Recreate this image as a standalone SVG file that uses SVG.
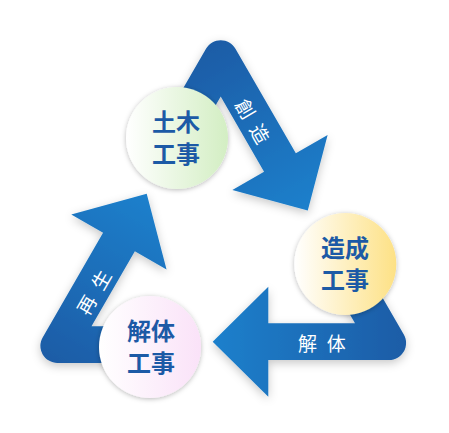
<svg xmlns="http://www.w3.org/2000/svg" width="449" height="433" viewBox="0 0 449 433">
  <defs>
    <linearGradient id="arrowGrad" x1="0" y1="0" x2="1" y2="0">
      <stop offset="0" stop-color="#1b80cc"/>
      <stop offset="1" stop-color="#1a5ca6"/>
    </linearGradient>
    <linearGradient id="gGreen" x1="0" y1="0" x2="1" y2="0">
      <stop offset="0" stop-color="#ffffff"/>
      <stop offset="1" stop-color="#d3eec3"/>
    </linearGradient>
    <linearGradient id="gYellow" x1="0" y1="0" x2="1" y2="0">
      <stop offset="0" stop-color="#ffffff"/>
      <stop offset="1" stop-color="#fde185"/>
    </linearGradient>
    <linearGradient id="gPink" x1="0" y1="0" x2="1" y2="0">
      <stop offset="0" stop-color="#ffffff"/>
      <stop offset="1" stop-color="#fae2f8"/>
    </linearGradient>
    <filter id="arrowShadow" x="-20%" y="-20%" width="140%" height="140%">
      <feDropShadow dx="0" dy="3" stdDeviation="5" flood-color="#000000" flood-opacity="0.22"/>
    </filter>
    <filter id="circleShadow" x="-20%" y="-20%" width="140%" height="140%">
      <feDropShadow dx="0" dy="1" stdDeviation="2.5" flood-color="#000000" flood-opacity="0.28"/>
    </filter>
    <path id="arrowShape" d="M212.7,341.7 L268.3,286.7 L268.3,323.3 L355,323.3 L335,288.7 L366.8,270.4 L403.8,334.5 A17,17 0 0 1 389.1,360 L268.3,360 L268.3,396.7 Z"/>
  </defs>
  <style>
    .arrow { fill: url(#arrowGrad); }
    .alabel { font-family: "Noto Sans CJK JP", "Noto Sans", sans-serif; font-size: 19px; fill: #ffffff; text-anchor: middle; dominant-baseline: central; }
    .nlabel { font-family: "Noto Sans CJK JP", "Noto Sans", sans-serif; font-size: 24px; font-weight: bold; fill: #1c5aa6; text-anchor: middle; }
    .circle { filter: url(#circleShadow); }
  </style>
  <rect width="449" height="433" fill="#ffffff"/>

  <g id="connectors">
    <g id="arrow-souzou" filter="url(#arrowShadow)">
      <use href="#arrowShape" class="arrow" transform="rotate(240 222.4 248.7)"/>
    </g>
    <g id="arrow-kaitai" filter="url(#arrowShadow)">
      <use href="#arrowShape" class="arrow"/>
    </g>
    <g id="arrow-saisei" filter="url(#arrowShadow)">
      <use href="#arrowShape" class="arrow" transform="rotate(120 222.4 248.7)"/>
    </g>
    <text class="alabel" x="-14.5 0 14.5" y="0" transform="translate(253.6,120.8) rotate(60)">創 造</text>
    <text class="alabel" x="307.5 322 336.3" y="342">解 体</text>
    <text class="alabel" x="-14.5 0 14.5" y="0" transform="translate(92.9,291.7) rotate(-60)">再 生</text>
  </g>

  <g id="node-doboku">
    <circle class="circle" cx="177" cy="138" r="51" fill="url(#gGreen)"/>
    <text class="nlabel"><tspan x="176" y="131">土木</tspan><tspan x="176" y="163">工事</tspan></text>
  </g>
  <g id="node-zousei">
    <circle class="circle" cx="345.3" cy="264" r="51" fill="url(#gYellow)"/>
    <text class="nlabel"><tspan x="345" y="257">造成</tspan><tspan x="345" y="289">工事</tspan></text>
  </g>
  <g id="node-kaitai">
    <circle class="circle" cx="150" cy="347" r="51" fill="url(#gPink)"/>
    <text class="nlabel"><tspan x="151" y="340">解体</tspan><tspan x="151" y="372">工事</tspan></text>
  </g>
</svg>
